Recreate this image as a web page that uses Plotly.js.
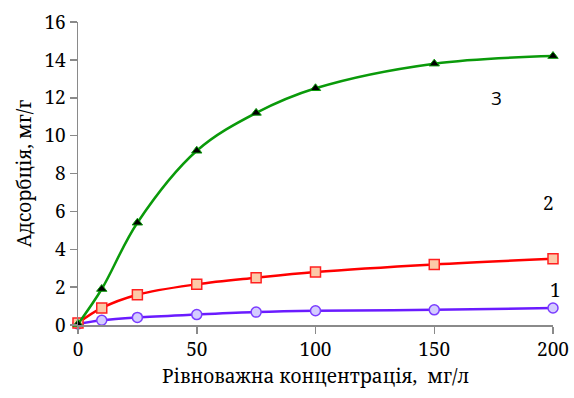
<!DOCTYPE html>
<html>
<head>
<meta charset="utf-8">
<script src="https://cdn.plot.ly/plotly-3.0.1.min.js"></script>
</head>
<body style="margin:0">
<div id="c" style="width:574px;height:398px"></div>
<script>
const concentration = [0, 10, 25, 50, 75, 100, 150, 200];
const series1 = [0.05, 0.25, 0.4, 0.55, 0.68, 0.75, 0.8, 0.9];
const series2 = [0.1, 0.9, 1.6, 2.15, 2.5, 2.8, 3.2, 3.5];
const series3 = [0.05, 1.9, 5.4, 9.2, 11.2, 12.5, 13.8, 14.2];
const seriesLabels = ["1", "2", "3"];
const labelX = [200, 198, 176];
const labelY = [1.85, 6.45, 12.0];
const xTitle = "Рівноважна концентрація,  мг/л";
const yTitle = "Адсорбція, мг/г";

const SERIF = "Noto Serif";

const traces = [
  {x: concentration, y: series1, mode: "lines+markers", line: {shape: "spline", color: "#6a1bff", width: 2.5},
   marker: {symbol: "circle", size: 10, color: "#d4ccff", line: {color: "#7a3cff", width: 1.5}}, cliponaxis: false},
  {x: concentration, y: series2, mode: "lines+markers", line: {shape: "spline", color: "#ff0000", width: 2.5},
   marker: {symbol: "square", size: 10, color: "#fcc9a8", line: {color: "#ff2020", width: 1.5}}, cliponaxis: false},
  {x: concentration, y: series3, mode: "lines+markers", line: {shape: "spline", color: "#0a9a0a", width: 2.5},
   marker: {symbol: "triangle-up", size: 9, color: "#000000", line: {color: "#0a9a0a", width: 1}}, cliponaxis: false}
];

const annotations = seriesLabels.map((t, i) => ({
  x: labelX[i], y: labelY[i], xref: "x", yref: "y", text: t, showarrow: false,
  xshift: i === 0 ? 2 : 0,
  font: i === 2 ? {family: "Open Sans", size: 19, color: "#000"} : {family: SERIF, size: 19, color: "#000"}
}));

const layout = {
  width: 574, height: 398,
  margin: {l: 78, r: 21, t: 22, b: 73},
  showlegend: false,
  font: {family: SERIF, size: 19, color: "#000"},
  xaxis: {
    range: [0, 200], tickvals: [0, 50, 100, 150, 200], showgrid: false, zeroline: false,
    showline: true, linecolor: "#8a8a8a", linewidth: 1.5,
    ticks: "outside", ticklen: 7, tickcolor: "#8a8a8a", tickwidth: 1.5,
    tickfont: {family: SERIF, size: 19, color: "#000"},
    title: {text: xTitle, font: {family: SERIF, size: 19, color: "#000"}, standoff: 8}
  },
  yaxis: {
    range: [0, 16], tickvals: [0, 2, 4, 6, 8, 10, 12, 14, 16], showgrid: false, zeroline: false,
    showline: true, linecolor: "#8a8a8a", linewidth: 1.5,
    ticks: "outside", ticklen: 7, tickcolor: "#8a8a8a", tickwidth: 1.5,
    tickfont: {family: SERIF, size: 19, color: "#000"},
    title: {text: yTitle, font: {family: SERIF, size: 19, color: "#000"}, standoff: 8}
  },
  annotations: annotations
};

Plotly.newPlot("c", traces, layout, {staticPlot: true});
</script>
</body>
</html>
